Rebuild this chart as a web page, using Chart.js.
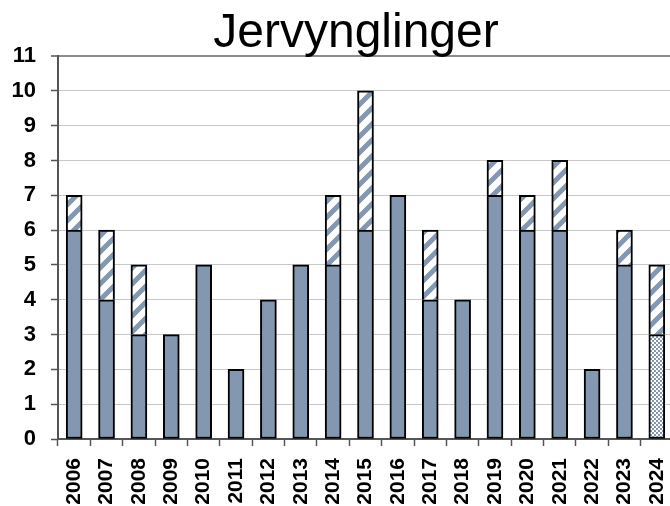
<!DOCTYPE html>
<html><head><meta charset="utf-8">
<script src="https://cdn.jsdelivr.net/npm/chart.js@4"></script>
<style>html,body{margin:0;padding:0;overflow:hidden;background:#fff;}canvas{display:block;}</style>
</head><body>
<canvas id="c" width="673" height="506"></canvas>
<script>
const years = ['2006','2007','2008','2009','2010','2011','2012','2013','2014','2015','2016','2017','2018','2019','2020','2021','2022','2023','2024'];
const solidVals   = [6,4,3,3,5,2,4,5,5,6,7,4,4,7,6,6,2,5,null];
const stippleVals = [null,null,null,null,null,null,null,null,null,null,null,null,null,null,null,null,null,null,3];
const hatchVals   = [1,2,2,null,null,null,null,null,2,4,null,2,null,1,1,2,null,1,2];
const titleText = 'Jervynglinger';
const BLUE = '#8497B0';

function hatchPattern(){
  const c=document.createElement('canvas'); c.width=c.height=16;
  const g=c.getContext('2d');
  g.fillStyle='#fff'; g.fillRect(0,0,16,16);
  g.strokeStyle=BLUE; g.lineWidth=5;
  g.beginPath();
  g.moveTo(-4,20); g.lineTo(20,-4);
  g.moveTo(-4,4); g.lineTo(4,-4);
  g.moveTo(12,20); g.lineTo(20,12);
  g.stroke();
  return g.createPattern(c,'repeat');
}
function stipplePattern(){
  const c=document.createElement('canvas'); c.width=c.height=4;
  const g=c.getContext('2d');
  g.fillStyle='#fff'; g.fillRect(0,0,4,4);
  g.fillStyle=BLUE; g.fillRect(0,0,2,2); g.fillRect(2,2,2,2);
  return g.createPattern(c,'repeat');
}

const titlePlugin = {
  id:'titleText',
  afterDraw(chart){
    const ctx=chart.ctx; ctx.save();
    ctx.font='48px "Liberation Sans", Arial, sans-serif';
    ctx.fillStyle='#000'; ctx.textAlign='center'; ctx.textBaseline='alphabetic';
    ctx.fillText(titleText,356,47);
    ctx.restore();
  }
};

new Chart(document.getElementById('c'),{
  type:'bar',
  data:{labels:years,datasets:[
    {data:solidVals,backgroundColor:BLUE,borderColor:'#000',borderWidth:2,borderSkipped:false,stack:'s'},
    {data:stippleVals,backgroundColor:stipplePattern(),borderColor:'#000',borderWidth:2,borderSkipped:false,stack:'s'},
    {data:hatchVals,backgroundColor:hatchPattern(),borderColor:'#000',borderWidth:2,borderSkipped:'bottom',stack:'s'}
  ]},
  options:{
    responsive:false, animation:false, devicePixelRatio:1,
    layout:{padding:{top:56,left:0,right:0,bottom:0}},
    plugins:{legend:{display:false},title:{display:false},tooltip:{enabled:false}},
    datasets:{bar:{barThickness:16}},
    scales:{
      x:{stacked:true,
        grid:{offset:true,drawOnChartArea:false,drawTicks:true,tickLength:7,tickColor:'#555',tickWidth:1.5},
        border:{display:true,color:'#555',width:2},
        ticks:{minRotation:90,maxRotation:90,padding:12,color:'#000',font:{family:'"Liberation Sans", Arial, sans-serif',size:21,weight:'bold'}},
        afterFit(s){s.height=67;s.paddingLeft=0;s.paddingRight=0;}
      },
      y:{stacked:true,min:0,max:11,
        grid:{color:(c)=>c.tick&&c.tick.value===11?'#8c8c8c':'#c8c8c8',lineWidth:(c)=>c.tick&&c.tick.value===11?2:1,tickLength:7,tickColor:'#555',tickWidth:1.5},
        border:{display:true,color:'#555',width:2},
        ticks:{stepSize:1,padding:15,color:'#000',font:{family:'"Liberation Sans", Arial, sans-serif',size:22,weight:'bold'}},
        afterFit(s){s.width=58;s.paddingTop=0;s.paddingBottom=0;}
      }
    }
  },
  plugins:[titlePlugin]
});
</script>
</body></html>
